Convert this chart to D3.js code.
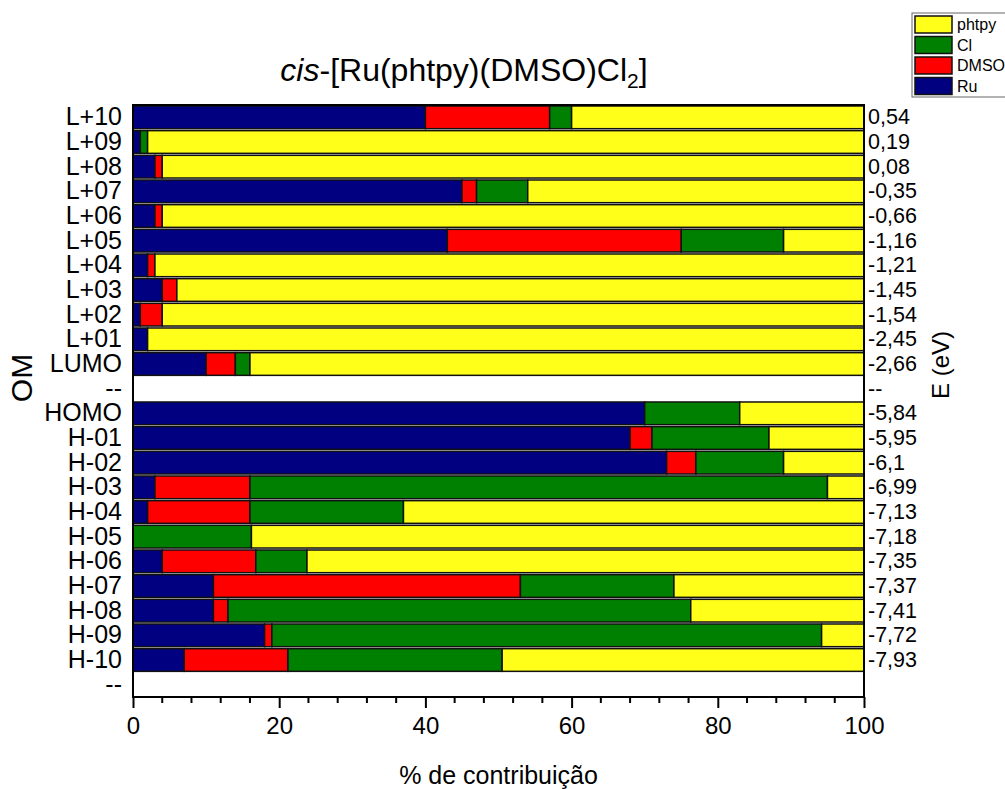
<!DOCTYPE html>
<html>
<head>
<meta charset="utf-8">
<script src="https://cdn.jsdelivr.net/npm/d3@7"></script>
<style>
  body { margin: 0; background: #fff; }
  svg { font-family: "Liberation Sans", Arial, sans-serif; }
</style>
</head>
<body>
<svg width="1005" height="789"></svg>
<script>
// orbitais (de cima para baixo)
const orbitais = ['L+10','L+09','L+08','L+07','L+06','L+05','L+04','L+03','L+02','L+01','LUMO','--',
                  'HOMO','H-01','H-02','H-03','H-04','H-05','H-06','H-07','H-08','H-09','H-10','--'];
const energias = ['0,54','0,19','0,08','-0,35','-0,66','-1,16','-1,21','-1,45','-1,54','-2,45','-2,66','--',
                  '-5,84','-5,95','-6,1','-6,99','-7,13','-7,18','-7,35','-7,37','-7,41','-7,72','-7,93',''];

// % de contribuição por fragmento
const ru    = [40, 1, 3, 45, 3, 43, 2, 4, 1, 2, 10, null, 70, 68, 73, 3, 2, 0, 4, 11, 11, 18, 7, null];
const dmso  = [17, 0, 1, 2, 1, 32, 1, 2, 3, 0, 4, null, 0, 3, 4, 13, 14, 0, 12.8, 42, 2, 1, 14.2, null];
const cl    = [3, 1, 0, 7, 0, 14, 0, 0, 0, 0, 2, null, 13, 16, 12, 79, 21, 16.2, 7, 21, 63.3, 75.2, 29.3, null];
const phtpy = [40, 98, 96, 46, 96, 11, 97, 94, 96, 98, 84, null, 17, 13, 11, 5, 63, 83.8, 76.2, 26, 23.7, 5.8, 49.5, null];

const xTicks = [0, 20, 40, 60, 80, 100];

const series = [
  { nome: 'Ru',    valores: ru,    cor: '#000080' },
  { nome: 'DMSO',  valores: dmso,  cor: '#ff0000' },
  { nome: 'Cl',    valores: cl,    cor: '#008000' },
  { nome: 'phtpy', valores: phtpy, cor: '#ffff1a' }
];

const svg = d3.select('svg');
const margem = { left: 133, right: 141, top: 105, bottom: 92 };
const W = 1005, H = 789;

const x = d3.scaleLinear().domain([0, 100]).range([margem.left, W - margem.right]);
const y = d3.scaleBand().domain(d3.range(orbitais.length))
  .range([margem.top, H - margem.bottom]).paddingInner(0.08).paddingOuter(0.04);

// tabela para o stack
const tabela = orbitais.map((o, i) => {
  const linha = { i };
  series.forEach(s => linha[s.nome] = s.valores[i] || 0);
  return linha;
});
const stack = d3.stack().keys(series.map(s => s.nome))(tabela);

const g = svg.append('g');
stack.forEach((camada, k) => {
  g.selectAll(null)
    .data(camada.filter(d => d[1] - d[0] > 0))
    .join('rect')
    .attr('x', d => x(d[0]))
    .attr('y', d => y(d.data.i))
    .attr('width', d => x(d[1]) - x(d[0]))
    .attr('height', y.bandwidth())
    .attr('fill', series[k].cor)
    .attr('stroke', '#111')
    .attr('stroke-width', 1.5);
});

// moldura
svg.append('rect')
  .attr('x', x(0)).attr('y', margem.top)
  .attr('width', x(100) - x(0)).attr('height', H - margem.bottom - margem.top)
  .attr('fill', 'none').attr('stroke', '#000').attr('stroke-width', 2);

// eixo X
const eixoX = svg.append('g')
  .attr('transform', `translate(0,${H - margem.bottom})`)
  .call(d3.axisBottom(x).tickValues(xTicks).tickSize(11).tickPadding(9).tickFormat(d3.format('d')));
eixoX.select('.domain').remove();
eixoX.selectAll('text').style('font-size', '24px').attr('fill', '#000');
eixoX.selectAll('line').attr('stroke-width', 2);

svg.append('g')
  .attr('transform', `translate(0,${H - margem.bottom})`)
  .selectAll('line')
  .data(d3.range(0, 101, 4).filter(v => v % 20 !== 0))
  .join('line')
  .attr('x1', d => x(d)).attr('x2', d => x(d))
  .attr('y1', 0).attr('y2', 6)
  .attr('stroke', '#000').attr('stroke-width', 2);

// eixo Y esquerdo
const eixoY = svg.append('g')
  .attr('transform', `translate(${margem.left},0)`)
  .call(d3.axisLeft(y).tickSize(0).tickPadding(11).tickFormat(i => orbitais[i]));
eixoY.select('.domain').remove();
eixoY.selectAll('text').style('font-size', '25px').attr('fill', '#000');

// eixo Y direito (energias)
const eixoD = svg.append('g')
  .attr('transform', `translate(${x(100)},0)`)
  .call(d3.axisRight(y).tickSize(0).tickPadding(4).tickFormat(i => energias[i]));
eixoD.select('.domain').remove();
eixoD.selectAll('text').style('font-size', '21.5px').attr('fill', '#000');

// títulos
svg.append('text')
  .attr('x', (x(0) + x(100)) / 2).attr('y', 784)
  .attr('text-anchor', 'middle').style('font-size', '25px')
  .text('% de contribuição');

svg.append('text')
  .attr('transform', 'translate(32,378) rotate(-90)')
  .attr('text-anchor', 'middle').style('font-size', '30px')
  .text('OM');

svg.append('text')
  .attr('transform', 'translate(949,365) rotate(-90)')
  .attr('text-anchor', 'middle').style('font-size', '24px')
  .text('E (eV)');

const titulo = svg.append('text')
  .attr('x', 464).attr('y', 81)
  .attr('text-anchor', 'middle').style('font-size', '32px');
titulo.append('tspan').style('font-style', 'italic').text('cis');
titulo.append('tspan').text('-[Ru(phtpy)(DMSO)Cl');
titulo.append('tspan').attr('dy', 7).style('font-size', '21px').text('2');
titulo.append('tspan').attr('dy', -7).text(']');

// legenda
const leg = svg.append('g').attr('transform', 'translate(912,13)');
const itens = series.slice().reverse();
leg.append('rect')
  .attr('x', 0).attr('y', 0).attr('width', 100).attr('height', itens.length * 20.5 + 2)
  .attr('fill', '#fff').attr('stroke', '#666').attr('stroke-width', 1);
itens.forEach((s, i) => {
  leg.append('rect')
    .attr('x', 3).attr('y', 3 + i * 20.5).attr('width', 37).attr('height', 17)
    .attr('fill', s.cor).attr('stroke', '#111').attr('stroke-width', 1.5);
  leg.append('text')
    .attr('x', 45).attr('y', 17 + i * 20.5)
    .style('font-size', '16px')
    .text(s.nome);
});
</script>
</body>
</html>
